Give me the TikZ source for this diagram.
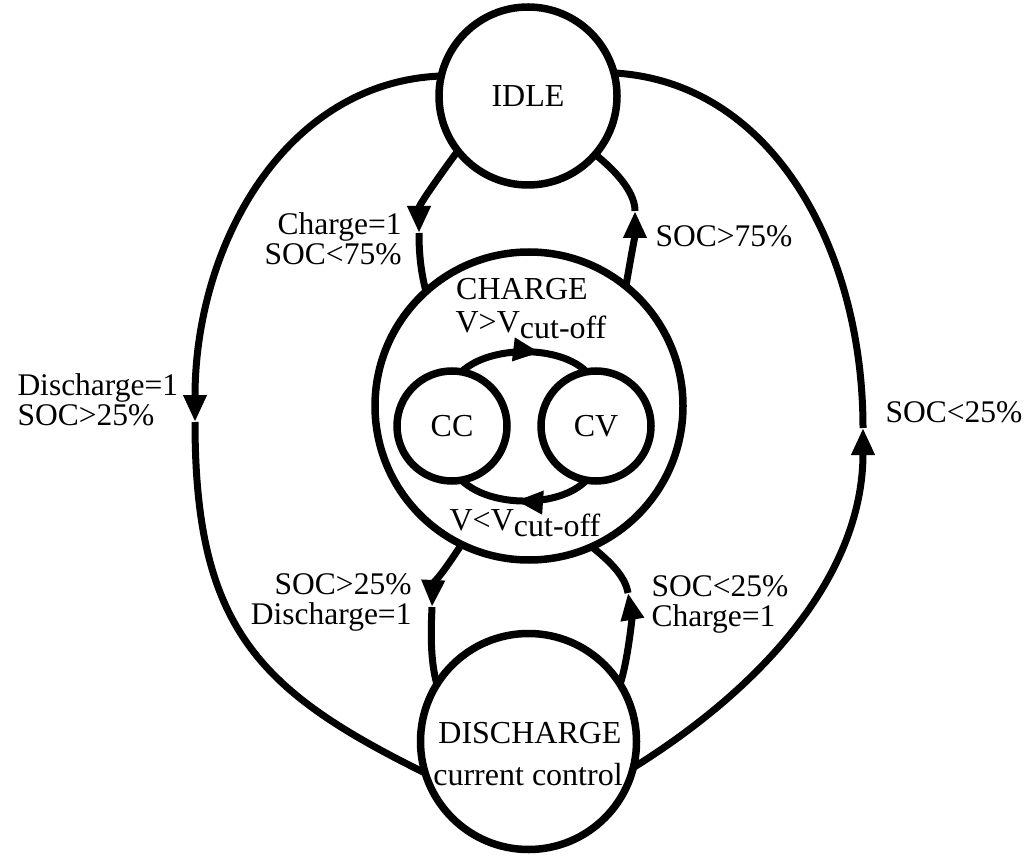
\documentclass[tikz,border=0pt]{standalone}
\usepackage{fontspec}
\setmainfont{Liberation Serif}
\usetikzlibrary{arrows.meta,decorations.markings}
\begin{document}
\begin{tikzpicture}[x=1pt,y=-1pt,line width=7pt,
  >={Triangle[length=27pt,width=22pt]},
  state/.style={circle,draw,line width=7.5pt,inner sep=0pt,outer sep=0pt,
    font=\fontsize{32}{38}\selectfont},
  cond/.style={inner sep=0pt,
    font={\fontsize{31.5}{30}\selectfont\lineskiplimit=-100pt}},
  title/.style={inner sep=0pt,font=\fontsize{32}{38}\selectfont},
  midarrow/.style={postaction={decorate},
    decoration={markings,mark=at position #1 with {\arrow{>}}}}]

\useasboundingbox (0,0) rectangle (1025,858);

% states
\node[state,minimum size=178pt] (idle) at (528,96) {IDLE};
\node[state,minimum size=308pt] (charge) at (529,406) {};
\node[state,minimum size=110pt] (cc) at (452,426) {CC};
\node[state,minimum size=110pt] (cv) at (596,426) {CV};
\node[state,minimum size=216pt] (discharge) at (528.5,741.5) {};

% texts inside the composite states
\node[title,anchor=base] (chargeT) at (522,300) {CHARGE};
\node[title,anchor=base] (vup) at (531,333) {V>V\raisebox{-6pt}{cut-off}};
\node[title,anchor=base] (vdown) at (525,530) {V<V\raisebox{-6pt}{cut-off}};
\node[title,anchor=base] (dischT) at (530,743) {DISCHARGE};
\node[title,anchor=base] (dischC) at (528,785) {current control};

% arrow tip positions
\coordinate (tL) at (195,422);
\coordinate (tR) at (863,428);
\coordinate (tIL) at (419,233);
\coordinate (tIR) at (635,211);
\coordinate (tDL) at (432,607);
\coordinate (tDR) at (628,593);

% IDLE -> DISCHARGE (outer left)
\draw[->] (idle.167) .. controls (285,82) and (195,245) .. (tL);
\draw (tL) .. controls (195,628) and (259,691) .. (discharge.197);
% DISCHARGE -> IDLE (outer right)
\draw[->] (discharge.346) .. controls (769,683) and (863,571) .. (tR);
\draw (tR) .. controls (863,250) and (773,82) .. (idle.15);

% IDLE -> CHARGE
\draw[->] (idle.218) .. controls (440,175) and (419,205) .. (tIL);
\draw (tIL) .. controls (419,255) and (421,272) .. (charge.132);
% CHARGE -> IDLE
\draw[->] (charge.51) .. controls (630,262) and (635,235) .. (tIR);
\draw (tIR) .. controls (635,190) and (612,168) .. (idle.319);

% CHARGE -> DISCHARGE
\draw[->] (charge.244) .. controls (445,570) and (433,585) .. (tDL);
\draw (tDL) .. controls (431,630) and (430,660) .. (discharge.148);
% DISCHARGE -> CHARGE
\draw[->] (discharge.32) .. controls (628,660) and (632,617) .. (tDR);
\draw (tDR) .. controls (625,575) and (608,560) .. (charge.294);

% CC <-> CV
\draw[midarrow=0.62] (cc.80) .. controls (490,345) and (560,345) .. (cv.100);
\draw[midarrow=0.56] (cv.260) .. controls (560,508) and (490,508) .. (cc.280);

% transition conditions
\node[cond,align=right,anchor=north east] (l1) at (405,209.5) {Charge=1\\SOC<75\%};
\node[cond,anchor=base west] (l2) at (652,247) {SOC>75\%};
\node[cond,align=left,anchor=north west] (l3) at (14,370.5)
  {Discharge=1\\SOC>25\%};
\node[cond,anchor=base west] (l4) at (882,422) {SOC<25\%};
\node[cond,align=right,anchor=north east] (l5) at (415,569.7) {SOC>25\%\\Discharge=1};
\node[cond,align=left,anchor=north west] (l6) at (648,572.2) {SOC<25\%\\Charge=1};
\end{tikzpicture}
\end{document}
